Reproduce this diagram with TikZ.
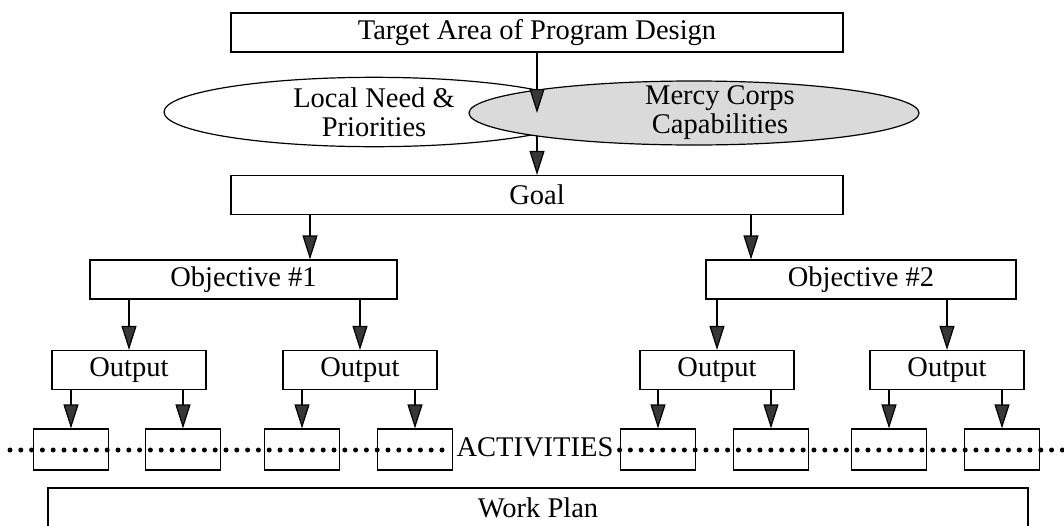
\documentclass[tikz,border=0pt]{standalone}
\usepackage{fontspec}
\setmainfont{Liberation Serif}
\usetikzlibrary{arrows.meta,backgrounds,shapes.geometric}
\definecolor{corpsgray}{RGB}{218,218,218}
\definecolor{tipgray}{RGB}{55,55,55}
\tikzset{
	box/.style={draw, line width=1.2pt, inner sep=0pt, minimum height=39pt},
	actbox/.style={box, minimum width=75pt, minimum height=41pt},
	oval/.style={draw, ellipse, line width=1.2pt, inner sep=0pt, minimum height=64pt, align=center},
	arr/.style={-{Triangle[length=24pt,width=15pt,fill=tipgray]}, line width=1.2pt},
	dots/.style={line width=5pt, line cap=round, dash pattern=on 0pt off 10.8pt}
}
\begin{document}
\begin{tikzpicture}[x=1pt, y=-1pt, font=\fontsize{28.5}{29}\selectfont]
	\useasboundingbox (0,0) rectangle (1064,525);

	\node[box, minimum width=612pt]   (top)  at (537,32.5)  {Target Area of Program Design};
	\node[box, minimum width=612pt]   (goal) at (537,195)   {Goal};
	\node[oval, minimum width=420pt]  (need) at (374,112)   {Local Need \&\\Priorities};
	\node[oval, minimum width=450pt, fill=corpsgray,
		label={[align=center, xshift=26pt]center:Mercy Corps\\Capabilities}] (corps) at (694,113) {};

	\node[box, minimum width=307pt]   (obj1) at (243.5,279.5) {Objective \#1};
	\node[box, minimum width=310pt]   (obj2) at (861,279.5)   {Objective \#2};

	\node[box, minimum width=154pt]   (out1) at (129,370) {Output};
	\node[box, minimum width=154pt]   (out2) at (360,370) {Output};
	\node[box, minimum width=154pt]   (out3) at (717,370) {Output};
	\node[box, minimum width=154pt]   (out4) at (947,370) {Output};

	\node[actbox] (act1) at (71,449.5)   {};
	\node[actbox] (act2) at (183,449.5)  {};
	\node[actbox] (act3) at (302,449.5)  {};
	\node[actbox] (act4) at (415,449.5)  {};
	\node[actbox] (act5) at (658,449.5)  {};
	\node[actbox] (act6) at (771,449.5)  {};
	\node[actbox] (act7) at (889,449.5)  {};
	\node[actbox] (act8) at (1002,449.5) {};

	\node[inner sep=0pt] (acts) at (535,447) {ACTIVITIES};
	\node[box, minimum width=980pt, minimum height=40pt] (plan) at (538,508) {Work Plan};

	\coordinate (dl) at (10,450);
	\coordinate (dr) at (1064,450);

	\path [arr] (top.south) edge (top.south |- corps);
	\begin{pgfonlayer}{background}
		\path [arr] (top.south |- corps) edge (goal.north);
	\end{pgfonlayer}

	\path [arr] ([xshift=66.5pt]obj1.north |- goal.south) edge ([xshift=66.5pt]obj1.north);
	\path [arr] ([xshift=-110pt]obj2.north |- goal.south) edge ([xshift=-110pt]obj2.north);

	\path [arr] (out1.north |- obj1.south) edge (out1.north);
	\path [arr] (out2.north |- obj1.south) edge (out2.north);
	\path [arr] (out3.north |- obj2.south) edge (out3.north);
	\path [arr] (out4.north |- obj2.south) edge (out4.north);

	\path [arr] (act1.north |- out1.south) edge (act1.north);
	\path [arr] (act2.north |- out1.south) edge (act2.north);
	\path [arr] (act3.north |- out2.south) edge (act3.north);
	\path [arr] (act4.north |- out2.south) edge (act4.north);
	\path [arr] (act5.north |- out3.south) edge (act5.north);
	\path [arr] (act6.north |- out3.south) edge (act6.north);
	\path [arr] (act7.north |- out4.south) edge (act7.north);
	\path [arr] (act8.north |- out4.south) edge (act8.north);

	\draw [dots] (dl) -- ([xshift=-6pt]acts.west |- dl);
	\draw [dots] ([xshift=6pt]acts.east |- dr) -- (dr);
\end{tikzpicture}
\end{document}
